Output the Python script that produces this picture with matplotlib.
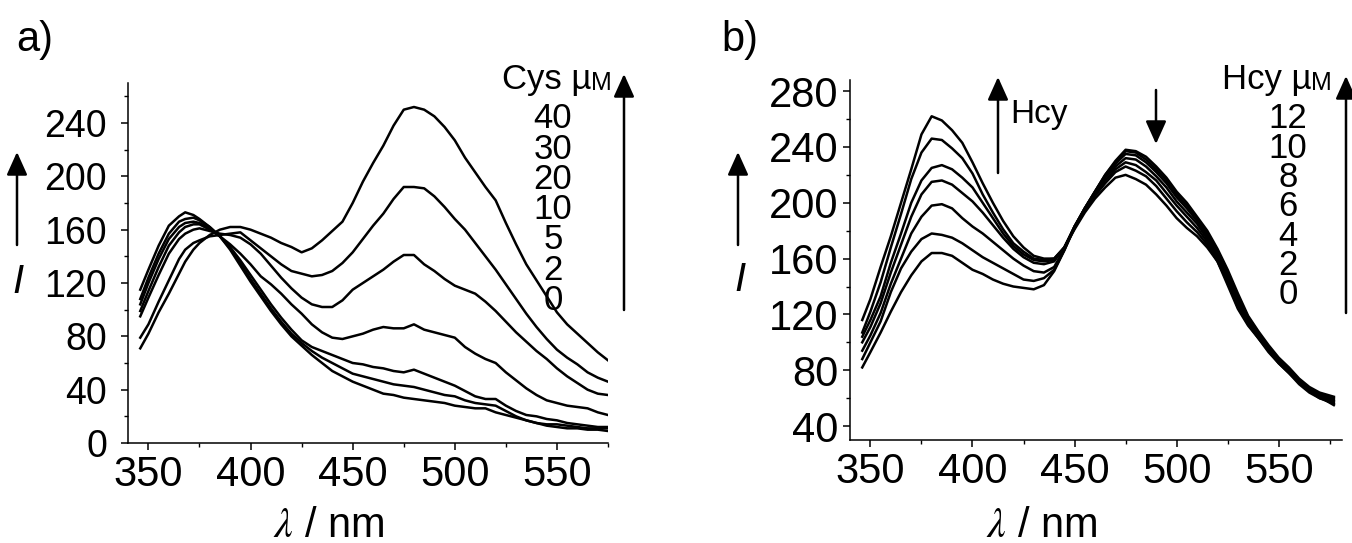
import matplotlib
matplotlib.use("Agg")
import matplotlib.pyplot as plt
from matplotlib.ticker import MultipleLocator
from matplotlib.offsetbox import TextArea, HPacker, AnnotationBbox

plt.rcParams['font.family'] = ['Liberation Sans', 'DejaVu Sans']
plt.rcParams['mathtext.fontset'] = 'stix'

# ---------------- data: panel a (Cys) ----------------
wl_a = [346, 350, 355, 360, 365, 368, 372, 375, 380, 385, 390, 395, 400, 405, 410, 415,
        420, 425, 430, 435, 440, 445, 450, 455, 460, 465, 470, 475, 480, 485, 490, 495,
        500, 505, 510, 515, 520, 525, 530, 535, 540, 545, 550, 555, 560, 565, 570, 575]
cys_conc = [0, 2, 5, 10, 20, 30, 40]
cys_0 = [115, 130, 148, 163, 170, 173, 171, 168, 162, 155, 145, 133, 121, 110, 99, 89,
         80, 73, 66, 60, 54, 50, 46, 43, 40, 37, 36, 34, 33, 32, 31, 30,
         28, 27, 26, 26, 23, 21, 19, 17, 15, 13, 12, 11, 11, 10, 10, 9]
cys_2 = [108, 124, 142, 157, 166, 168, 169, 167, 162, 155, 146, 135, 123, 112, 101, 91,
         82, 75, 69, 64, 60, 56, 52, 50, 48, 46, 44, 43, 42, 40, 38, 36,
         35, 32, 30, 29, 28, 24, 20, 17, 15, 14, 14, 13, 12, 11, 11, 11]
cys_5 = [104, 120, 138, 153, 162, 165, 166, 165, 161, 155, 147, 137, 126, 115, 104, 94,
         85, 77, 72, 69, 66, 63, 60, 59, 57, 56, 54, 53, 55, 52, 49, 46,
         43, 39, 35, 33, 33, 28, 24, 21, 20, 18, 17, 15, 14, 13, 12, 12]
cys_10 = [99, 114, 132, 148, 158, 162, 164, 164, 160, 155, 149, 142, 134, 125, 119, 112,
          104, 97, 89, 83, 79, 78, 80, 82, 85, 87, 86, 86, 89, 85, 83, 81,
          79, 72, 67, 63, 60, 53, 47, 41, 36, 32, 30, 28, 27, 26, 23, 21]
cys_20 = [95, 109, 126, 142, 153, 157, 160, 161, 159, 157, 156, 154, 149, 142, 133, 124,
          116, 109, 104, 102, 102, 107, 115, 120, 125, 130, 136, 141, 141, 134, 129, 123,
          118, 115, 112, 106, 99, 91, 83, 76, 69, 63, 56, 50, 45, 40, 37, 36]
cys_30 = [79, 89, 106, 122, 138, 145, 150, 152, 155, 156, 157, 158, 152, 146, 140, 134,
          129, 127, 125, 126, 129, 135, 143, 153, 163, 172, 183, 192, 192, 191, 185, 177,
          168, 160, 150, 140, 130, 119, 108, 97, 87, 78, 70, 64, 59, 53, 49, 46]
cys_40 = [71, 82, 98, 112, 127, 136, 145, 150, 156, 160, 162, 162, 160, 157, 154, 150,
          147, 143, 146, 152, 159, 166, 180, 196, 210, 223, 238, 250, 252, 250, 245, 237,
          227, 214, 203, 192, 182, 165, 149, 134, 122, 110, 98, 89, 82, 75, 68, 62]
cys_series = [cys_0, cys_2, cys_5, cys_10, cys_20, cys_30, cys_40]
cys_labels = ["40", "30", "20", "10", "5", "2", "0"]

# ---------------- data: panel b (Hcy) ----------------
wl_b = [346, 350, 355, 360, 365, 370, 375, 380, 385, 390, 395, 400, 405, 410, 415, 420,
        425, 430, 435, 440, 445, 450, 455, 460, 465, 470, 475, 480, 485, 490, 495, 500,
        505, 510, 515, 520, 525, 530, 535, 540, 545, 550, 555, 560, 565, 570, 577]
hcy_conc = [0, 2, 4, 6, 8, 10, 12]
hcy_0 = [82, 93, 107, 122, 136, 148, 158, 164, 164, 162, 157, 152, 149, 145, 142, 140,
         139, 138, 141, 151, 166, 182, 196, 208, 220, 230, 238, 237, 233, 226, 218, 208,
         200, 190, 180, 167, 152, 135, 119, 108, 98, 89, 82, 74, 68, 64, 61]
hcy_2 = [88, 100, 115, 136, 153, 165, 174, 178, 177, 175, 171, 166, 161, 157, 153, 149,
         145, 144, 146, 152, 166, 183, 196, 208, 220, 229, 237, 236, 231, 224, 216, 206,
         198, 189, 178, 166, 150, 133, 118, 107, 97, 88, 81, 73, 67, 63, 60]
hcy_4 = [94, 105, 121, 142, 160, 178, 190, 198, 199, 196, 189, 183, 178, 172, 166, 160,
         155, 151, 150, 154, 167, 183, 196, 208, 219, 228, 235, 234, 229, 222, 214, 204,
         196, 187, 176, 164, 148, 131, 117, 106, 96, 87, 80, 72, 66, 62, 59]
hcy_6 = [100, 111, 128, 150, 170, 190, 206, 215, 216, 213, 207, 201, 193, 184, 175, 167,
         161, 157, 156, 158, 168, 183, 196, 207, 218, 226, 232, 231, 226, 219, 211, 201,
         193, 185, 174, 162, 146, 129, 115, 105, 95, 86, 79, 71, 65, 61, 58]
hcy_8 = [104, 116, 133, 157, 178, 200, 216, 225, 227, 224, 218, 211, 200, 189, 178, 169,
         163, 159, 158, 159, 168, 183, 195, 206, 216, 224, 229, 227, 222, 216, 207, 198,
         190, 182, 172, 160, 145, 127, 114, 104, 94, 85, 78, 71, 65, 60, 57]
hcy_10 = [107, 122, 143, 168, 192, 217, 236, 246, 245, 239, 232, 221, 206, 193, 181, 171,
          165, 160, 159, 160, 168, 182, 194, 205, 214, 222, 226, 223, 219, 212, 203, 194,
          186, 179, 170, 158, 143, 125, 113, 103, 93, 85, 78, 70, 64, 60, 56]
hcy_12 = [116, 131, 154, 176, 200, 224, 249, 262, 259, 252, 243, 229, 214, 200, 187, 176,
          168, 162, 160, 160, 168, 181, 193, 203, 211, 218, 220, 217, 213, 206, 198, 189,
          182, 176, 168, 158, 141, 124, 112, 103, 94, 86, 79, 72, 66, 61, 55]
hcy_series = [hcy_0, hcy_2, hcy_4, hcy_6, hcy_8, hcy_10, hcy_12]
hcy_labels = ["12", "10", "8", "6", "4", "2", "0"]

a_yticks = [0, 40, 80, 120, 160, 200, 240]
b_yticks = [40, 80, 120, 160, 200, 240, 280]
xticks = [350, 400, 450, 500, 550]

W, H = 1352, 543
fig = plt.figure(figsize=(W / 100, H / 100), dpi=100)


def px_axes(l, t, r, b):
    return fig.add_axes([l / W, (H - b) / H, (r - l) / W, (b - t) / H])


def style(ax, ysize, xsize, ypad):
    for s in ("top", "right"):
        ax.spines[s].set_visible(False)
    for s in ("left", "bottom"):
        ax.spines[s].set_linewidth(1.1)
    ax.xaxis.set_minor_locator(MultipleLocator(25))
    ax.yaxis.set_minor_locator(MultipleLocator(20))
    ax.tick_params(which="major", direction="out", length=5, width=1.1)
    ax.tick_params(which="minor", direction="out", length=3, width=1.0)
    ax.tick_params(axis="y", labelsize=ysize, pad=ypad)
    ax.tick_params(axis="x", labelsize=xsize, pad=3.5)


# panel a
axa = px_axes(128, 83, 608, 443)
for s in cys_series:
    axa.plot(wl_a, s, color="black", lw=1.8, solid_joinstyle="round")
axa.set_xlim(340, 575)
axa.set_ylim(0, 270)
axa.set_xticks(xticks)
axa.set_yticks(a_yticks)
style(axa, 27, 30, 10)

# panel b
axb = px_axes(850, 80, 1342, 440)
for s in hcy_series:
    axb.plot(wl_b, s, color="black", lw=1.8, solid_joinstyle="round")
axb.set_xlim(340, 581)
axb.set_ylim(30, 288)
axb.set_xticks(xticks)
axb.set_yticks(b_yticks)
style(axb, 30, 30, 3.5)


def ftext(x, y, s, **kw):
    fig.text(x / W, (H - y) / H, s, **kw)


def arrow(x, y_tail, y_tip, lw=1.8, hw=0.45, hl=1.0):
    fig.add_artist(matplotlib.patches.FancyArrowPatch(
        (x / W, (H - y_tail) / H), (x / W, (H - y_tip) / H),
        transform=fig.transFigure,
        arrowstyle=f"-|>,head_length={hl},head_width={hw}",
        mutation_scale=14, lw=lw, color="black", shrinkA=0, shrinkB=0))


# panel letters
ftext(16, 51, "a)", fontsize=30, va="baseline")
ftext(721, 51, "b)", fontsize=30, va="baseline")

# x labels
ftext(329, 537, r"$\lambda$ / nm", fontsize=30, ha="center", va="baseline")
ftext(1042, 537, r"$\lambda$ / nm", fontsize=30, ha="center", va="baseline")

# y labels (arrow + italic I)
for xa in (17, 738):
    arrow(xa, 245, 152)
ftext(18, 282, "I", fontsize=29, style="italic", ha="center", va="center")
ftext(740, 280, "I", fontsize=29, style="italic", ha="center", va="center")


def conc_header(x_right, y_center, name):
    t1 = TextArea(name + " µ", textprops=dict(fontsize=25))
    t2 = TextArea("M", textprops=dict(fontsize=18))
    box = HPacker(children=[t1, t2], align="baseline", pad=0, sep=0)
    ab = AnnotationBbox(box, (x_right, H - y_center), xycoords="figure pixels",
                        box_alignment=(1, 0.5), frameon=False)
    fig.add_artist(ab)


conc_header(612, 80, "Cys")
conc_header(1332, 80, "Hcy")

for i, lab in enumerate(cys_labels):
    ftext(553, 119 + i * 30.2, lab, fontsize=25, ha="center", va="center")
for i, lab in enumerate(hcy_labels):
    ftext(1288, 119 + i * 29.3, lab, fontsize=25, ha="center", va="center")

# long concentration arrows
arrow(624, 310, 74)
arrow(1346, 313, 76)

# inner arrows of panel b
arrow(998, 173, 77)
ftext(1010, 123, "Hcy", fontsize=24, va="baseline")
arrow(1156, 90, 144)

fig.savefig("out.png", dpi=100)
